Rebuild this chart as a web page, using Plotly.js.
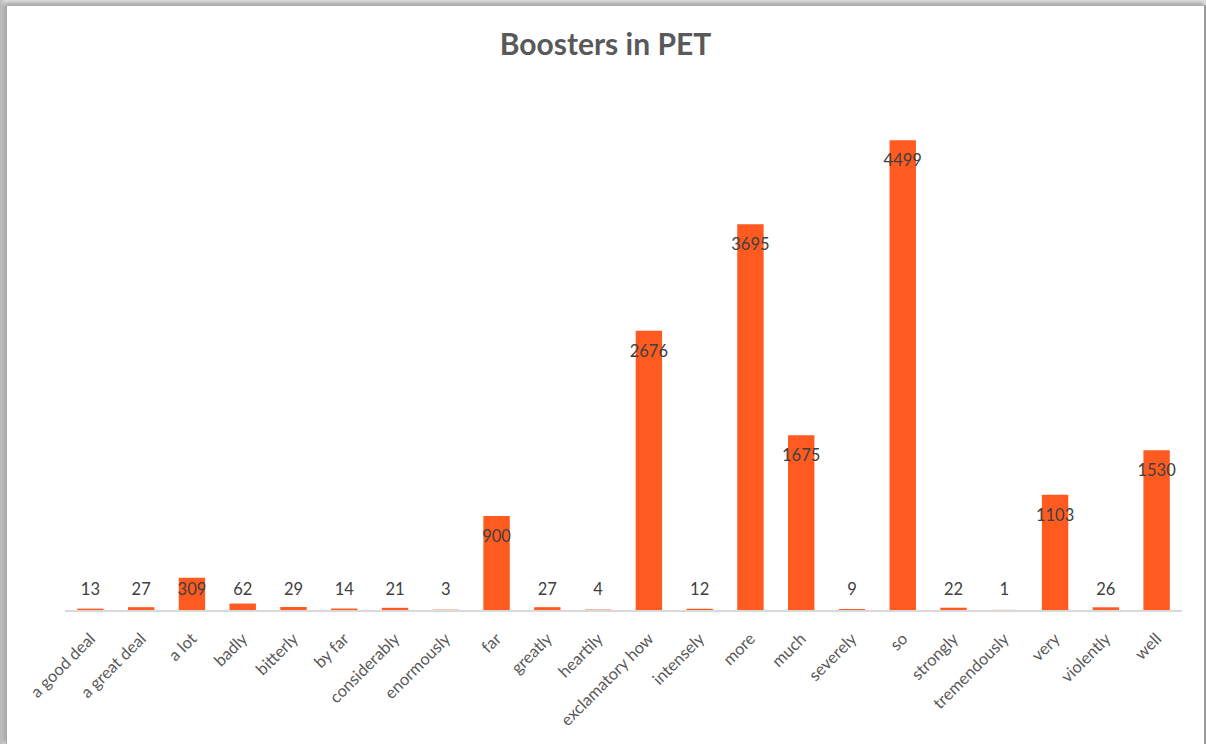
<!DOCTYPE html>
<html>
<head>
<meta charset="utf-8">
<script src="https://cdn.plot.ly/plotly-3.0.1.min.js"></script>
<style>
  html, body { margin: 0; padding: 0; width: 1206px; height: 744px; overflow: hidden;
    background: linear-gradient(to right, #bdbdbd 0px, #e6e6e6 6px, #e6e6e6 100%); }
  #frame { position: absolute; left: 6px; top: 5px; width: 1197px; height: 739px;
    background: #fff; border-right: 2px solid #9a9a9a; border-left: 1px solid #a8a8a8;
    border-top: 1px solid #b0b0b0; box-shadow: -2px -2px 5px rgba(0,0,0,0.35); }
  #chart { position: absolute; left: 0; top: 0; width: 1197px; height: 739px; }
</style>
</head>
<body>
<div id="frame"><div id="chart"></div></div>
<script>
// Booster words and their counts in the PET corpus
const boosters = ["a good deal", "a great deal", "a lot", "badly", "bitterly", "by far",
  "considerably", "enormously", "far", "greatly", "heartily", "exclamatory how",
  "intensely", "more", "much", "severely", "so", "strongly", "tremendously",
  "very", "violently", "well"];
const counts = [13, 27, 309, 62, 29, 14, 21, 3, 900, 27, 4, 2676, 12, 3695, 1675, 9,
  4499, 22, 1, 1103, 26, 1530];

const barColor = "#FF5A1F";
const fontFamily = "Lato, 'Open Sans', sans-serif";
const labelFont = { family: fontFamily, size: 16.5, color: "#404040" };

// Labels sit just inside the top of tall bars, and above the axis for short ones
const labelY = counts.map(v => Math.max(v - 210, 182));

const bars = {
  type: "bar",
  x: boosters,
  y: counts,
  marker: { color: barColor, line: { width: 0, color: barColor } },
  hoverinfo: "x+y"
};

const labels = {
  type: "scatter",
  mode: "text",
  x: boosters,
  y: labelY,
  text: counts.map(String),
  textposition: "middle center",
  textfont: labelFont,
  hoverinfo: "skip",
  cliponaxis: false
};

const layout = {
  width: 1197,
  height: 739,
  margin: { l: 58, r: 22, t: 82, b: 135 },
  paper_bgcolor: "#ffffff",
  plot_bgcolor: "#ffffff",
  showlegend: false,
  bargap: 0.48,
  title: {
    text: "<b>Boosters in PET</b>",
    font: { family: fontFamily, size: 30, color: "#595959" },
    x: 0.5, xanchor: "center",
    y: 1 - 38 / 739, yref: "container", yanchor: "middle"
  },
  xaxis: {
    type: "category",
    range: [-0.5, boosters.length - 0.5],
    tickangle: -45,
    tickfont: { family: fontFamily, size: 16.5, color: "#595959" },
    ticklabelstandoff: 11,
    showline: true,
    linecolor: "#d9d9d9",
    linewidth: 1.5,
    ticks: "",
    showgrid: false,
    zeroline: false,
    automargin: false
  },
  yaxis: {
    range: [0, 5000],
    visible: false,
    showgrid: false,
    zeroline: false
  }
};

Plotly.newPlot("chart", [bars, labels], layout, { displayModeBar: false, staticPlot: true });
</script>
</body>
</html>
